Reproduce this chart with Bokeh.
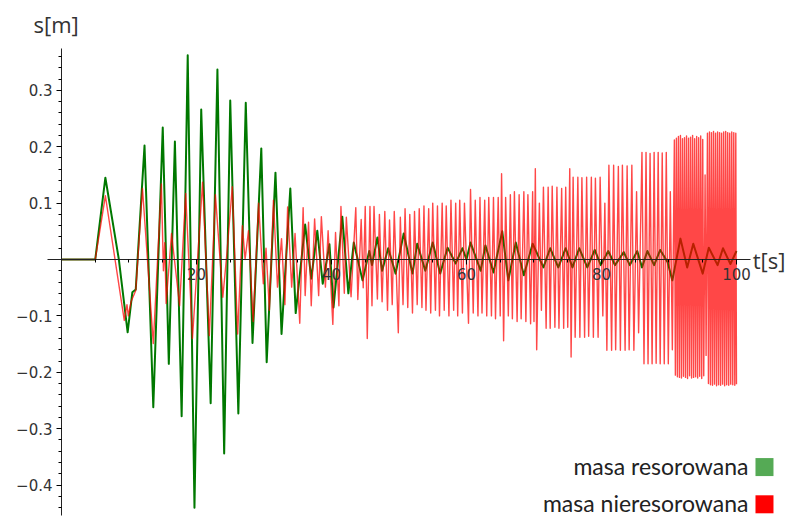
from bokeh.plotting import figure
from bokeh.models import Range1d, FixedTicker, Label, CustomJSTickFormatter
from bokeh.embed import file_html
from bokeh.resources import INLINE

# ---------------- data ----------------
# sprung mass (green): times [s] and displacement [m] at turning points
green_t_a = [0.0, 5.0, 6.5, 8.5, 9.8, 10.5, 11.0, 12.3, 13.6, 15.0, 15.9, 16.8, 17.8, 18.7, 19.7,
             20.7, 22.1, 23.1, 24.1, 25.0, 26.2, 27.3, 28.3, 29.6, 30.4, 31.7, 32.6, 33.9, 34.7]
green_s_a = [0.0, 0.0, 0.145, 0.0, -0.129, -0.058, -0.053, 0.202, -0.262, 0.234, -0.185, 0.209, -0.278, 0.362, -0.440,
             0.266, -0.255, 0.337, -0.344, 0.282, -0.273, 0.278, -0.148, 0.197, -0.182, 0.154, -0.132, 0.126, -0.095]
green_t_b = [36.1, 37.0, 37.9, 38.7, 39.7, 40.3, 41.6, 42.5, 43.3, 44.6,
             45.6, 46.0, 46.8, 47.5, 48.4, 49.5, 50.7, 52.0, 52.7, 53.9,
             55.0, 56.1, 57.2, 58.4, 59.4, 60.0, 60.6, 62.1, 62.8, 64.0,
             65.3, 66.2, 67.3, 68.5, 69.8, 71.4, 72.4, 73.6, 74.7, 75.7,
             76.7, 77.9, 79.0, 79.9, 81.0, 82.0, 83.3, 84.2, 85.3, 86.0,
             86.8, 87.8, 88.7, 89.8, 90.5, 91.7, 92.7, 93.6, 95.0, 95.9,
             97.2, 98.0, 99.1, 100.0]
green_s_b = [0.062, -0.034, 0.051, -0.043, 0.027, -0.085, 0.076, -0.060, 0.030, -0.037,
             0.015, -0.010, 0.039, -0.020, 0.020, -0.025, 0.046, -0.025, 0.028, -0.020,
             0.030, -0.025, 0.021, -0.007, 0.020, 0.000, 0.030, -0.020, 0.025, -0.023,
             0.050, -0.037, 0.030, -0.028, 0.028, -0.014, 0.020, -0.014, 0.020, -0.014,
             0.020, -0.014, 0.017, -0.010, 0.015, -0.010, 0.013, -0.010, 0.015, -0.014,
             0.015, -0.010, 0.017, -0.005, -0.037, 0.037, -0.014, 0.028, -0.025, 0.021,
             -0.010, 0.020, -0.008, 0.015]

# unsprung mass (red): times [s] and displacement [m] at turning points
red_t_a = [0.0, 5.0, 6.5, 9.3, 9.7, 9.9, 10.3, 11.0, 12.0, 13.6, 14.8, 15.1, 15.3, 15.5, 16.3, 17.5, 18.4, 19.4,
           20.9, 21.9, 22.8, 23.9, 24.5, 25.3, 26.1, 26.8, 27.2, 27.7, 28.4, 29.2, 29.9, 30.3, 30.8,
           31.4, 32.0, 32.6, 33.1, 33.5, 34.1, 34.6, 35.3]
red_s_a = [0.0, 0.0, 0.113, -0.108, -0.080, -0.100, -0.075, -0.055, 0.126, -0.149, 0.134, -0.020, 0.030, -0.078,
           0.046, -0.082, 0.117, -0.140, 0.137, -0.135, 0.115, -0.067, 0.010, 0.129, -0.132, 0.060, 0.000, 0.051,
           -0.110, 0.100, -0.043, 0.020, -0.090, 0.105, -0.049, 0.037, -0.080, 0.093, -0.049, 0.046, -0.113]
red_t_b = [35.8, 36.1, 36.6, 37.0, 37.5, 38.1, 38.5, 39.1, 39.5, 40.2,
           40.6, 41.1, 41.4, 41.9, 42.2, 42.9, 43.6, 43.9, 44.4, 44.7,
           45.0, 45.3, 45.7, 46.0, 46.3, 46.8, 47.1, 47.5, 47.9, 48.3,
           48.6, 49.0, 49.3, 49.9, 50.2, 50.6, 50.9, 51.3, 51.6, 52.0,
           52.3, 52.7, 53.0, 53.4, 53.7, 54.0, 54.4, 54.7, 55.0, 55.4,
           55.7, 56.0, 56.4, 56.7, 57.0, 57.4, 57.7, 58.1, 58.4, 58.7,
           59.0, 59.4, 59.7, 60.3, 60.6, 61.0, 61.3, 61.7, 62.0, 62.3,
           62.7, 63.0, 63.3, 63.7, 64.0, 64.3, 64.7, 65.0, 65.2, 65.5]
red_s_b = [0.092, -0.064, 0.066, -0.082, 0.072, -0.064, 0.076, -0.049, 0.051, -0.115,
           0.048, -0.082, 0.094, -0.060, 0.075, -0.066, 0.092, -0.071, 0.071, -0.050,
           0.094, -0.140, 0.094, -0.082, 0.094, -0.070, 0.080, -0.075, 0.085, -0.090,
           0.070, -0.080, 0.085, -0.130, 0.075, -0.080, 0.090, -0.085, 0.080, -0.095,
           0.085, -0.080, 0.090, -0.085, 0.095, -0.090, 0.090, -0.095, 0.100, -0.090,
           0.095, -0.100, 0.100, -0.090, 0.095, -0.100, 0.105, -0.090, 0.100, -0.100,
           0.105, -0.095, 0.100, -0.113, 0.124, -0.095, 0.105, -0.100, 0.110, -0.095,
           0.105, -0.100, 0.110, -0.100, 0.110, -0.105, 0.110, -0.100, 0.152, -0.144]
red_t_c = [65.8, 66.2, 66.5, 66.8, 67.1, 67.5, 67.8, 68.1, 68.5, 68.8,
           69.1, 69.5, 69.8, 70.0, 70.2, 70.4, 70.8, 71.1, 71.4, 71.8,
           72.1, 72.4, 72.7, 73.1, 73.4, 73.7, 74.1, 74.4, 74.7, 75.0,
           75.3, 75.5, 75.8, 76.1, 76.5, 76.8, 77.1, 77.5, 77.8, 78.1,
           78.5, 78.8, 79.1, 79.5, 79.8, 80.2, 80.5, 80.8, 81.1, 81.5,
           81.8, 82.1, 82.5, 82.8, 83.1, 83.5, 83.8, 84.1, 84.5, 84.8,
           85.2, 85.5, 86.0, 86.3, 86.6, 86.9, 87.2, 87.5, 87.8, 88.1,
           88.4, 88.7, 89.0, 89.3, 89.6, 89.9, 90.2, 90.5]
red_s_c = [0.110, -0.100, 0.115, -0.105, 0.120, -0.110, 0.115, -0.105, 0.120, -0.110,
           0.115, -0.114, 0.120, -0.110, 0.161, -0.160, 0.100, -0.090, 0.128, -0.122,
           0.128, -0.122, 0.130, -0.120, 0.128, -0.122, 0.126, -0.122, 0.128, -0.120,
           0.161, -0.173, 0.146, -0.138, 0.146, -0.138, 0.145, -0.138, 0.146, -0.136,
           0.146, -0.138, 0.144, -0.138, 0.146, -0.100, 0.100, -0.161, 0.167, -0.161,
           0.167, -0.160, 0.165, -0.161, 0.167, -0.161, 0.166, -0.160, 0.167, -0.161,
           0.120, -0.130, 0.190, -0.185, 0.190, -0.185, 0.188, -0.185, 0.190, -0.184,
           0.190, -0.185, 0.189, -0.185, 0.190, -0.185, 0.120, -0.160]
red_t_d = [90.8, 90.95, 91.1, 91.25, 91.4, 91.55, 91.7, 91.85, 92.0, 92.15,
           92.3, 92.45, 92.6, 92.75, 92.9, 93.05, 93.2, 93.35, 93.5, 93.65,
           93.8, 93.95, 94.1, 94.25, 94.4, 94.55, 94.7, 94.85, 95.0, 95.15,
           95.35, 95.5]
red_s_d = [0.212, -0.205, 0.215, -0.208, 0.218, -0.209, 0.220, -0.210, 0.214, -0.207,
           0.216, -0.209, 0.219, -0.211, 0.215, -0.206, 0.217, -0.210, 0.220, -0.209,
           0.214, -0.208, 0.218, -0.210, 0.216, -0.207, 0.219, -0.211, 0.213, -0.206,
           0.150, -0.170]
red_t_e = [95.7, 95.85, 96.0, 96.15, 96.3, 96.45, 96.6, 96.75, 96.9, 97.05,
           97.2, 97.35, 97.5, 97.65, 97.8, 97.95, 98.1, 98.25, 98.4, 98.55,
           98.7, 98.85, 99.0, 99.15, 99.3, 99.45, 99.6, 99.75, 99.9, 100.0]
red_s_e = [0.224, -0.220, 0.226, -0.222, 0.225, -0.223, 0.227, -0.221, 0.224, -0.224,
           0.226, -0.222, 0.225, -0.223, 0.224, -0.221, 0.226, -0.224, 0.227, -0.222,
           0.225, -0.223, 0.224, -0.221, 0.226, -0.222, 0.225, -0.223, 0.224, -0.221]

x_major_ticks = [20, 40, 60, 80, 100]
x_minor_ticks = [5, 10, 15, 20, 25, 30, 35, 40, 45, 50, 55, 60, 65, 70, 75, 80, 85, 90, 95, 100]
y_major_ticks = [-0.4, -0.3, -0.2, -0.1, 0.1, 0.2, 0.3]
y_minor_ticks = [-0.44, -0.42, -0.40, -0.38, -0.36, -0.34, -0.32, -0.30, -0.28, -0.26, -0.24, -0.22,
                 -0.20, -0.18, -0.16, -0.14, -0.12, -0.10, -0.08, -0.06, -0.04, -0.02, 0.02, 0.04,
                 0.06, 0.08, 0.10, 0.12, 0.14, 0.16, 0.18, 0.20, 0.22, 0.24, 0.26, 0.28, 0.30,
                 0.32, 0.34, 0.36]
series_names = ["masa resorowana", "masa nieresorowana"]
axis_names = ["t[s]", "s[m]"]

t_green = green_t_a + green_t_b
s_green = green_s_a + green_s_b
t_red = red_t_a + red_t_b + red_t_c + red_t_d + red_t_e
s_red = red_s_a + red_s_b + red_s_c + red_s_d + red_s_e

# ---------------- figure ----------------
p = figure(width=787, height=521, output_backend="svg", toolbar_location=None,
           x_range=Range1d(-9.037, 107.56), y_range=Range1d(-0.4645, 0.4592),
           min_border=0, background_fill_color="white", border_fill_color="white")
p.outline_line_color = None
p.xgrid.visible = False
p.ygrid.visible = False

p.line(t_green, s_green, line_color="#007800", line_width=2.0, line_join="round")
p.line(t_red, s_red, line_color="#ff0000", line_alpha=0.72, line_width=1.4, line_join="round")

xa = p.xaxis[0]
xa.fixed_location = 0
xa.bounds = (-2.07, 102.07)
xa.ticker = FixedTicker(ticks=x_major_ticks, minor_ticks=x_minor_ticks)
xa.major_tick_out = 5
xa.major_tick_in = 0
xa.minor_tick_out = 3
xa.minor_tick_in = 0
xa.major_label_text_font = "DejaVu Sans"
xa.major_label_text_font_size = "15px"
xa.major_label_text_color = "#333333"
xa.major_label_standoff = 3
xa.axis_line_color = "#222222"

ya = p.yaxis[0]
ya.fixed_location = 0
ya.bounds = (-0.454, 0.374)
ya.ticker = FixedTicker(ticks=y_major_ticks, minor_ticks=y_minor_ticks)
ya.formatter = CustomJSTickFormatter(code="return (tick < 0 ? '\\u2212' : '') + Math.abs(tick).toFixed(1);")
ya.major_tick_out = 5
ya.major_tick_in = 0
ya.minor_tick_out = 3
ya.minor_tick_in = 0
ya.major_label_text_font = "DejaVu Sans"
ya.major_label_text_font_size = "15px"
ya.major_label_text_color = "#333333"
ya.major_label_standoff = 4
ya.axis_line_color = "#222222"

p.add_layout(Label(x=-4.15, y=0.417, text=axis_names[1], text_font="Open Sans",
                   text_font_size="22px", text_color="#333333", text_baseline="alphabetic"))
p.add_layout(Label(x=102.4, y=0.0, text=axis_names[0], text_font="Open Sans",
                   text_font_size="22px", text_color="#333333", text_baseline="middle"))

# legend
p.rect(x=[104.15], y=[-0.368], width=18, height=18, width_units="screen", height_units="screen",
       fill_color="#55aa55", line_color=None)
p.rect(x=[104.15], y=[-0.434], width=18, height=18, width_units="screen", height_units="screen",
       fill_color="#ff0000", line_color=None)
p.add_layout(Label(x=101.78, y=-0.366, text=series_names[0], text_font="Lato", text_font_size="23px",
                   text_color="#222222", text_align="right", text_baseline="alphabetic"))
p.add_layout(Label(x=101.78, y=-0.432, text=series_names[1], text_font="Lato", text_font_size="23px",
                   text_color="#222222", text_align="right", text_baseline="alphabetic"))

open("out.html", "w").write(file_html(p, INLINE))
